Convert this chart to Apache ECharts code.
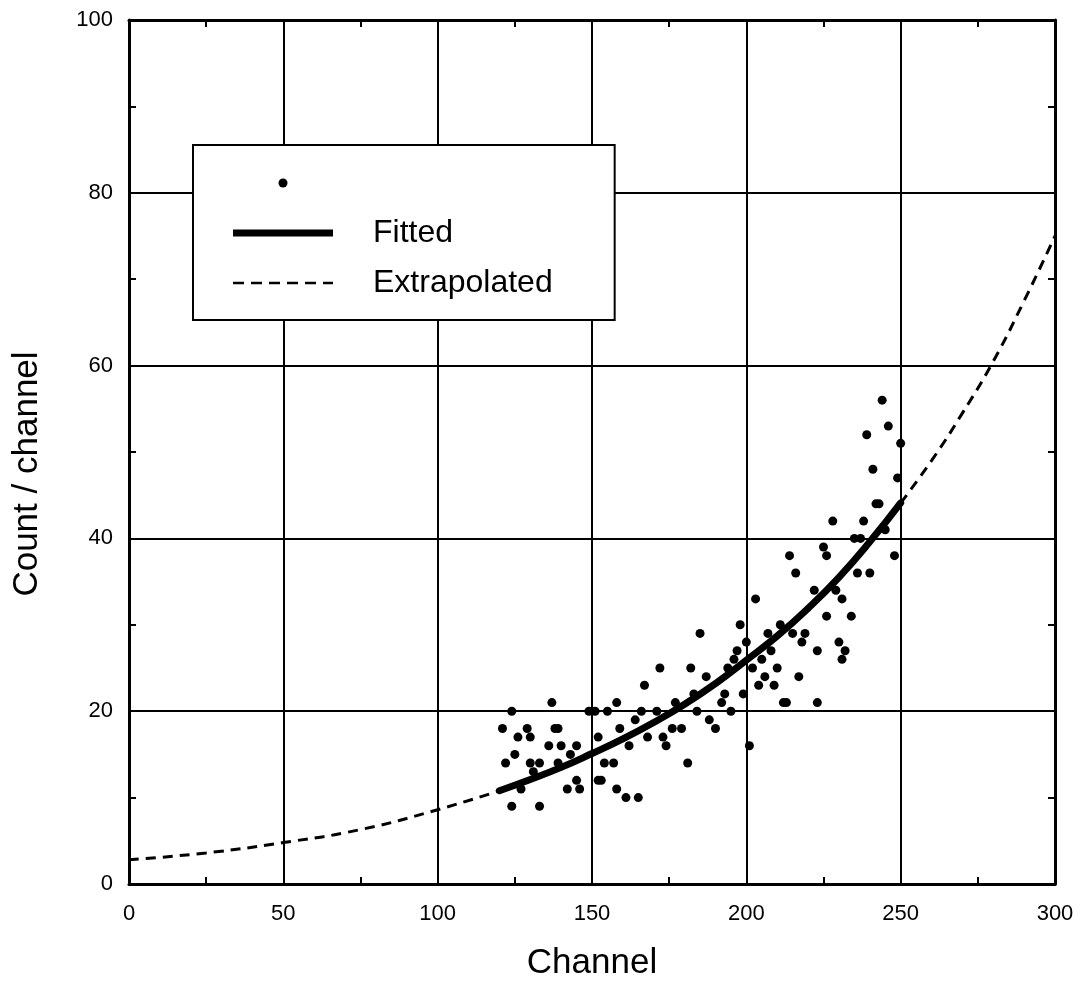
<!DOCTYPE html>
<html>
<head>
<meta charset="utf-8">
<script src="https://cdn.jsdelivr.net/npm/echarts@6/dist/echarts.min.js"></script>
<style>
  html, body { margin: 0; padding: 0; background: #fff; }
  #chart { width: 1088px; height: 985px; }
</style>
</head>
<body>
<div id="chart"></div>
<script>
// measured points (channel, count)
var dataChannel = [
    172, 182, 167, 137, 158, 124, 149, 151, 155, 166, 171, 177, 184, 164, 121, 129, 138, 139, 159, 176,
    179, 126, 130, 152, 168, 173, 136, 140, 145, 174, 162, 125, 143, 122, 130, 133, 139, 154, 157, 181,
    131, 152, 153, 145, 142, 146, 158, 127, 161, 165, 124, 133,
    242, 228, 238, 235, 237, 225, 226, 214, 216, 236, 240, 222, 229, 203, 231, 226, 234, 198, 211, 185,
    207, 215, 219, 200, 218, 230, 197, 208, 223, 232, 231, 196, 205, 202, 210, 194, 187, 206, 217, 204,
    209, 183, 193, 199, 192, 212, 213, 223, 195, 188, 190, 201,
    244, 246, 239, 250, 241, 249, 243, 245, 248
];
var dataCount = [
    25, 25, 23, 21, 21, 20, 20, 20, 20, 20, 20, 21, 20, 19, 18, 18, 18, 18, 18, 18,
    18, 17, 17, 17, 17, 17, 16, 16, 16, 16, 16, 15, 15, 14, 14, 14, 14, 14, 14, 14,
    13, 12, 12, 12, 11, 11, 11, 11, 10, 10, 9, 9,
    44, 42, 42, 40, 40, 39, 38, 38, 36, 36, 36, 34, 34, 33, 33, 31, 31, 30, 30, 29,
    29, 29, 29, 28, 28, 28, 27, 27, 27, 27, 26, 26, 26, 25, 25, 25, 24, 24, 24, 23,
    23, 22, 22, 22, 21, 21, 21, 21, 20, 19, 18, 16,
    56, 53, 52, 51, 48, 47, 44, 41, 38
];

// fitted curve
var fitChannel = [120, 130, 140, 150, 160, 170, 180, 190, 200, 210, 220, 230, 240, 250];
var fitCount = [10.8, 12.1, 13.5, 15.1, 16.8, 18.7, 20.8, 23.2, 25.9, 28.7, 31.9, 35.5, 39.6, 44.1];

// extrapolated parts below and above the fit range
var extLowChannel = [0, 25, 50, 75, 100, 120];
var extLowCount = [2.8, 3.6, 4.8, 6.3, 8.6, 10.8];
var extHighChannel = [250, 260, 270, 280, 290, 300];
var extHighCount = [44.1, 49.0, 54.5, 60.5, 67.5, 75.0];

function pairs(xs, ys) {
    var out = [];
    for (var i = 0; i < xs.length; i++) {
        out.push([xs[i], ys[i]]);
    }
    return out;
}

var chart = echarts.init(document.getElementById('chart'));
var font = 'Liberation Sans';

// legend icons, drawn in a 100 x 14 box
var dotIcon = 'path://M0,0 M100,14 M45.5,7 A4.5,4.5 0 1 0 54.5,7 A4.5,4.5 0 1 0 45.5,7 Z';
var thickIcon = 'path://M0,0 M100,14 M0,3.5 L100,3.5 L100,10.5 L0,10.5 Z';
var dashIcon = 'path://M0,0 M100,14' +
    ' M0,5.8 L11,5.8 L11,8.2 L0,8.2 Z' +
    ' M18,5.8 L29,5.8 L29,8.2 L18,8.2 Z' +
    ' M36,5.8 L47,5.8 L47,8.2 L36,8.2 Z' +
    ' M54,5.8 L65,5.8 L65,8.2 L54,8.2 Z' +
    ' M72,5.8 L83,5.8 L83,8.2 L72,8.2 Z' +
    ' M90,5.8 L100,5.8 L100,8.2 L90,8.2 Z';

var frameAxis = {
    min: 0,
    axisLine: { show: true, onZero: false, lineStyle: { color: '#000', width: 3 } },
    axisTick: { show: true, inside: true, length: 7, lineStyle: { color: '#000', width: 2 } },
    minorTick: { show: true, splitNumber: 2, length: 7, lineStyle: { color: '#000', width: 2 } },
    axisLabel: { show: false },
    splitLine: { show: false }
};

var option = {
    animation: false,
    backgroundColor: '#fff',
    grid: { left: 129, right: 33, top: 20, bottom: 101, outerBoundsMode: 'none' },
    legend: {
        left: 193,
        top: 145,
        orient: 'vertical',
        backgroundColor: '#fff',
        borderColor: '#000',
        borderWidth: 2,
        borderRadius: 0,
        padding: [22, 62, 21, 40],
        itemWidth: 100,
        itemHeight: 14,
        itemGap: 18,
        selectedMode: false,
        textStyle: {
            fontFamily: font,
            fontSize: 32,
            color: '#000',
            padding: [0, 0, 0, 35]
        },
        formatter: function (name) {
            return name === 'Data' ? ' ' : name;
        },
        data: [
            { name: 'Data', icon: dotIcon, itemStyle: { color: '#000', borderWidth: 0 } },
            { name: 'Fitted', icon: thickIcon, itemStyle: { color: '#000', borderWidth: 0 }, lineStyle: { width: 0 } },
            { name: 'Extrapolated', icon: dashIcon, itemStyle: { color: '#000', borderWidth: 0 }, lineStyle: { width: 0 } }
        ]
    },
    xAxis: [
        {
            type: 'value',
            position: 'bottom',
            min: 0,
            max: 300,
            interval: 50,
            name: 'Channel',
            nameLocation: 'middle',
            nameGap: 62,
            nameTextStyle: { fontFamily: font, fontSize: 35, color: '#000' },
            axisLine: { show: true, onZero: false, lineStyle: { color: '#000', width: 3 } },
            axisTick: { show: true, inside: true, length: 7, lineStyle: { color: '#000', width: 2 } },
            minorTick: { show: true, splitNumber: 2, length: 7, lineStyle: { color: '#000', width: 2 } },
            axisLabel: { fontFamily: font, fontSize: 22, color: '#000', margin: 19 },
            splitLine: { show: true, lineStyle: { color: '#000', width: 2 } }
        },
        Object.assign({}, frameAxis, { type: 'value', position: 'top', max: 300, interval: 50 })
    ],
    yAxis: [
        {
            type: 'value',
            position: 'left',
            min: 0,
            max: 100,
            interval: 20,
            name: 'Count / channel',
            nameLocation: 'middle',
            nameGap: 84,
            nameTextStyle: { fontFamily: font, fontSize: 35, color: '#000', padding: [0, 44, 0, 0] },
            axisLine: { show: true, onZero: false, lineStyle: { color: '#000', width: 3 } },
            axisTick: { show: true, inside: true, length: 7, lineStyle: { color: '#000', width: 2 } },
            minorTick: { show: true, splitNumber: 2, length: 7, lineStyle: { color: '#000', width: 2 } },
            axisLabel: { fontFamily: font, fontSize: 22, color: '#000', margin: 16 },
            splitLine: { show: true, lineStyle: { color: '#000', width: 2 } }
        },
        Object.assign({}, frameAxis, { type: 'value', position: 'right', max: 100, interval: 20 })
    ],
    series: [
        {
            name: 'Extrapolated',
            type: 'line',
            smooth: true,
            symbol: 'none',
            lineStyle: { color: '#000', width: 3, type: [10, 7] },
            itemStyle: { color: '#000' },
            data: pairs(extLowChannel, extLowCount),
            z: 3
        },
        {
            name: 'Extrapolated',
            type: 'line',
            smooth: true,
            symbol: 'none',
            lineStyle: { color: '#000', width: 3, type: [10, 7] },
            itemStyle: { color: '#000' },
            data: pairs(extHighChannel, extHighCount),
            z: 3
        },
        {
            name: 'Fitted',
            type: 'line',
            smooth: true,
            symbol: 'none',
            lineStyle: { color: '#000', width: 7, cap: 'round' },
            itemStyle: { color: '#000' },
            data: pairs(fitChannel, fitCount),
            z: 3
        },
        {
            name: 'Data',
            type: 'scatter',
            symbol: 'circle',
            symbolSize: 9,
            itemStyle: { color: '#000', opacity: 1 },
            data: pairs(dataChannel, dataCount),
            z: 4
        }
    ]
};

chart.setOption(option);
</script>
</body>
</html>
